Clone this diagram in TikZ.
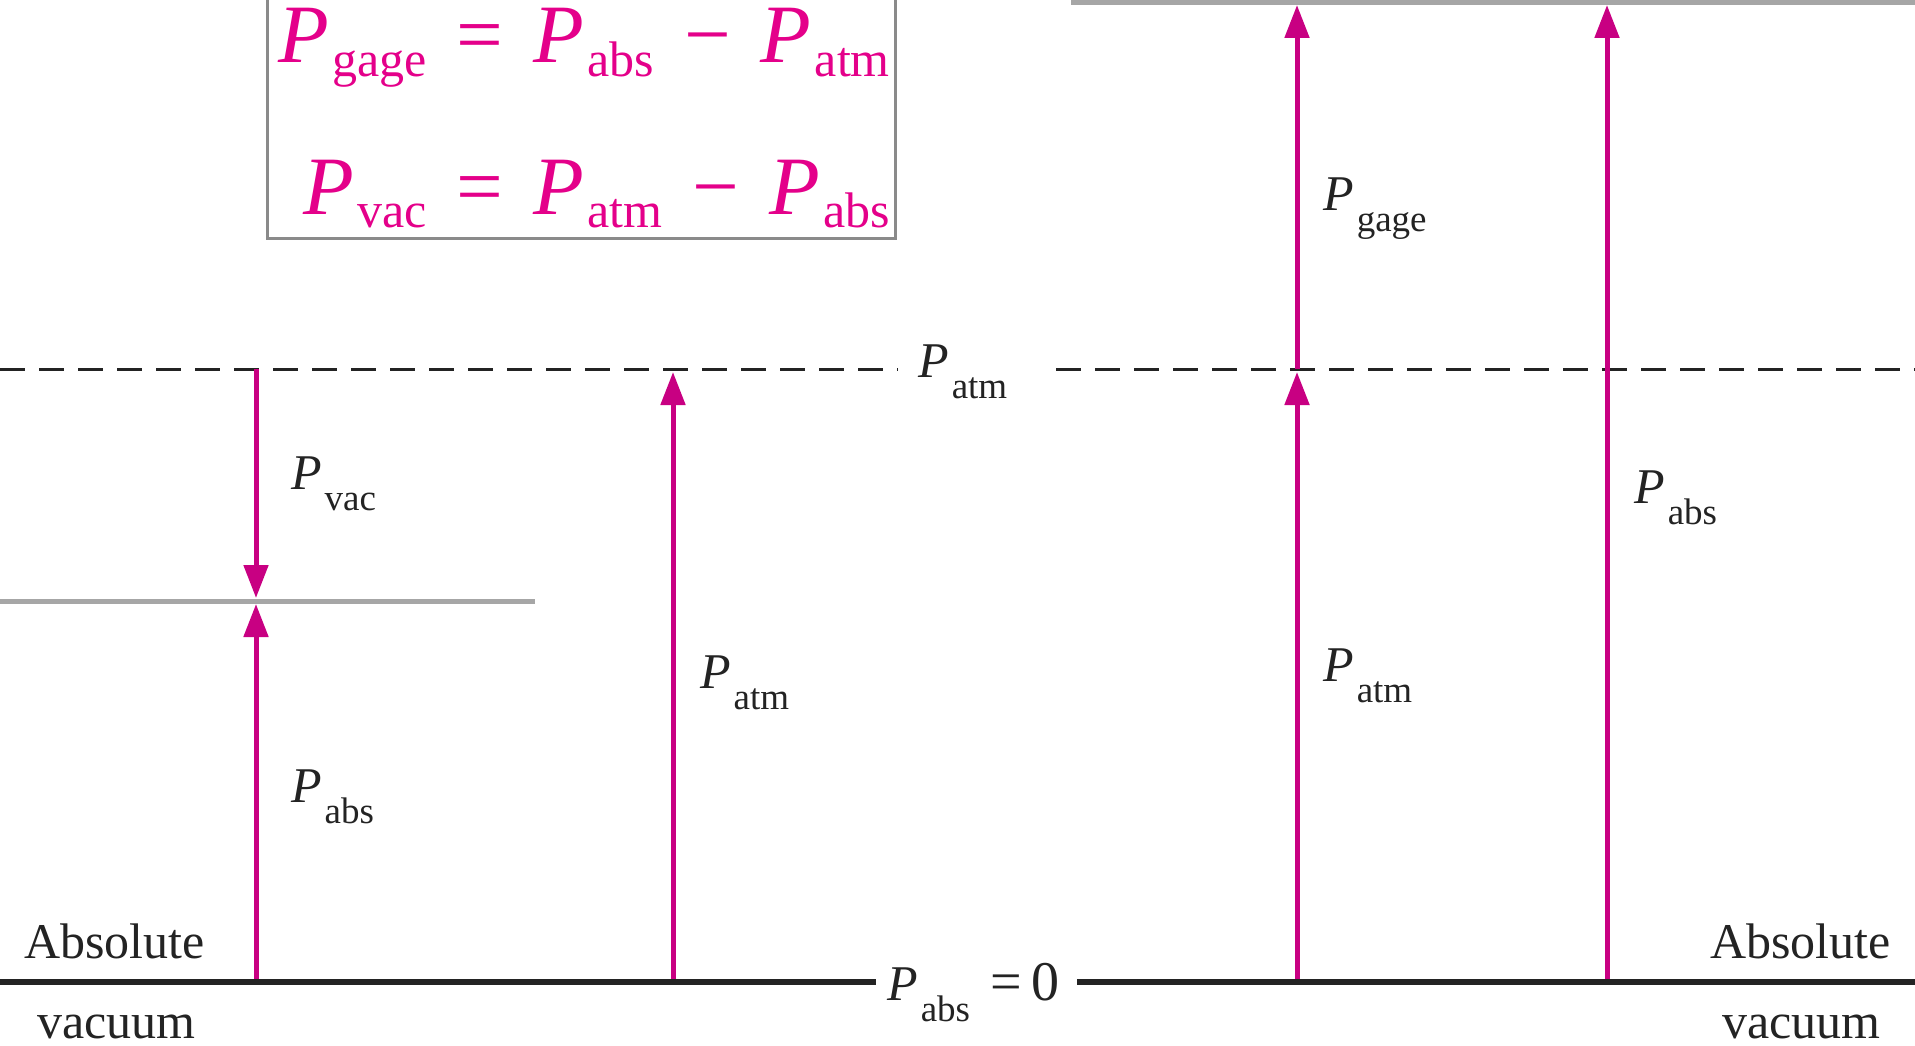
\documentclass[tikz,border=0pt]{standalone}
\usepackage{fontspec}
\setmainfont{Liberation Serif}
\usepackage{tikz}
\usetikzlibrary{arrows.meta}
\definecolor{gaugeMagenta}{RGB}{200,0,130}
\definecolor{formulaPink}{RGB}{228,0,138}
\definecolor{levelGray}{RGB}{166,166,166}
\definecolor{boxGray}{RGB}{138,138,138}
\definecolor{labelInk}{RGB}{35,35,35}

% pressure symbol with a lowered subscript
\newcommand\Plab[1]{\textit{P}\kern0.06em\raisebox{-0.42em}{\fontsize{37}{37}\selectfont #1}}
\newcommand\Pfor[1]{\textit{P}\kern0.04em\raisebox{-0.16em}{\fontsize{50}{50}\selectfont #1}}
\newcommand\gap{\hspace{0.36em}}

\begin{document}
\begin{tikzpicture}[
  x=1pt, y=-1pt,
  every node/.style={inner sep=0pt, text=labelInk, font=\fontsize{50}{50}\selectfont},
  lab/.style={anchor=base west},
  level/.style={draw=levelGray, line width=5pt},
  ground/.style={draw=labelInk, line width=6pt},
  atmline/.style={draw=labelInk, line width=3pt, dash pattern=on 25pt off 14pt},
  press/.style={draw=gaugeMagenta, line width=5pt, -{Triangle[length=33pt,width=24pt]}},
  formula/.style={anchor=base east, text=formulaPink, font=\fontsize{83}{83}\selectfont}
]
  \useasboundingbox (0,0) rectangle (1915,1046);

  % pressure levels
  \draw[ground] (0,982) -- (876,982);
  \draw[ground] (1077,982) -- (1915,982);
  \draw[atmline] (0,369) -- (898,369);
  \draw[atmline] (1056,369) -- (1915,369);
  \draw[level] (0,601) -- (535,601);
  \draw[level] (1071,2.5) -- (1915,2.5);

  % formula box
  \draw[boxGray, line width=3pt] (267,-4) rectangle (895,238);
  \node[formula] (fg) at (890,63)
    {\Pfor{gage}\gap=\gap\Pfor{abs}\gap\char"2212\gap\Pfor{atm}};
  \node[formula] (fv) at (890,214)
    {\Pfor{vac}\gap=\gap\Pfor{atm}\gap\char"2212\gap\Pfor{abs}};

  % arrow end points
  \coordinate (vacTop) at (256,369);
  \coordinate (vacEnd) at (256,598);
  \coordinate (absLo) at (256,979);
  \coordinate (absEnd) at (256,604);
  \coordinate (atmLo) at (673,979);
  \coordinate (atmEnd) at (673,372);
  \coordinate (gLo) at (1297,979);
  \coordinate (gMid) at (1297,372);
  \coordinate (gBase) at (1297,369);
  \coordinate (gTop) at (1297,5);
  \coordinate (pLo) at (1607,979);
  \coordinate (pTop) at (1607,5);

  \draw[press] (vacTop) -- (vacEnd);
  \draw[press] (absLo) -- (absEnd);
  \draw[press] (atmLo) -- (atmEnd);
  \draw[press] (gLo) -- (gMid);
  \draw[press] (gBase) -- (gTop);
  \draw[press] (pLo) -- (pTop);

  % labels
  \node[lab] (lvac) at (291,489) {\Plab{vac}};
  \node[lab] (labs) at (291,802) {\Plab{abs}};
  \node[lab] (matm) at (700,688) {\Plab{atm}};
  \node[lab] (datm) at (918,377) {\Plab{atm}};
  \node[lab] (zero) at (887,1000)
    {\Plab{abs}\hspace{0.4em}{\fontsize{56}{56}\selectfont =\hspace{0.18em}0}};
  \node[lab] (rgage) at (1323,211) {\Plab{gage}};
  \node[lab] (ratm) at (1323,681) {\Plab{atm}};
  \node[lab] (rabs) at (1634,503) {\Plab{abs}};

  \node[lab] (absL) at (24,958) {Absolute};
  \node[lab] (vacL) at (37,1038) {vacuum};
  \node[lab] (absR) at (1710,958) {Absolute};
  \node[lab] (vacR) at (1722,1038) {vacuum};
\end{tikzpicture}
\end{document}
